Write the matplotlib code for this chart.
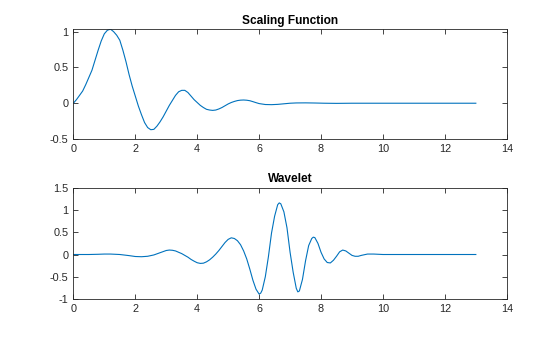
import matplotlib
matplotlib.use("Agg")
import matplotlib.pyplot as plt

phi_x = [0.0, 0.1, 0.2, 0.3, 0.4, 0.5, 0.6, 0.7, 0.8, 0.9, 1.0, 1.1, 1.2, 1.3, 1.4, 1.5,
         1.6, 1.7, 1.8, 1.9, 2.0, 2.1, 2.2, 2.3, 2.4, 2.5, 2.6, 2.7, 2.8, 2.9, 3.0, 3.1,
         3.2, 3.3, 3.4, 3.5, 3.6, 3.7, 3.8, 3.9, 4.0, 4.1, 4.2, 4.3, 4.4, 4.5, 4.6, 4.7,
         4.8, 4.9, 5.0, 5.1, 5.2, 5.3, 5.4, 5.5, 5.6, 5.7, 5.8, 5.9, 6.0, 6.2, 6.4, 6.6,
         6.8, 7.0, 7.2, 7.5, 7.8, 8.1, 8.5, 9.0, 10.0, 11.0, 12.0, 13.0]
phi_y = [0.0, 0.05, 0.11, 0.17, 0.26, 0.36, 0.46, 0.60, 0.74, 0.87, 0.97, 1.02, 1.035, 1.0, 0.95, 0.88,
         0.74, 0.58, 0.40, 0.24, 0.10, -0.04, -0.16, -0.27, -0.34, -0.37, -0.365, -0.32, -0.26, -0.19, -0.11, -0.03,
         0.04, 0.11, 0.16, 0.18, 0.18, 0.15, 0.10, 0.05, 0.01, -0.03, -0.06, -0.085, -0.095, -0.10, -0.095, -0.08,
         -0.06, -0.035, -0.01, 0.01, 0.025, 0.037, 0.043, 0.045, 0.042, 0.035, 0.022, 0.008, -0.005, -0.018, -0.02, -0.016,
         -0.008, 0.0, 0.004, 0.005, 0.003, 0.0, -0.002, 0.0, 0.0, 0.0, 0.0, 0.0]

psi_x = [0.0, 0.5, 0.8, 1.0, 1.2, 1.5, 1.8, 2.0, 2.2, 2.4, 2.6, 2.8, 3.0, 3.1, 3.2, 3.3,
         3.4, 3.5, 3.6, 3.7, 3.8, 3.9, 4.0, 4.1, 4.2, 4.3, 4.4, 4.5, 4.6, 4.7, 4.8, 4.9,
         5.0, 5.1, 5.2, 5.3, 5.4, 5.5, 5.6, 5.7, 5.8, 5.9, 6.0, 6.05, 6.1, 6.2, 6.3, 6.4,
         6.5, 6.6, 6.65, 6.7, 6.8, 6.9, 7.0, 7.1, 7.2, 7.25, 7.3, 7.4, 7.5, 7.6, 7.7, 7.75,
         7.8, 7.9, 8.0, 8.1, 8.2, 8.3, 8.4, 8.5, 8.6, 8.7, 8.8, 8.9, 9.0, 9.1, 9.2, 9.3,
         9.5, 9.7, 10.0, 11.0, 12.0, 13.0]
psi_y = [0.0, 0.0, 0.005, 0.01, 0.01, 0.0, -0.025, -0.045, -0.05, -0.04, -0.01, 0.04, 0.09, 0.10, 0.095, 0.08,
         0.05, 0.02, -0.02, -0.06, -0.11, -0.15, -0.185, -0.2, -0.195, -0.165, -0.12, -0.06, 0.01, 0.09, 0.18, 0.27,
         0.34, 0.375, 0.36, 0.31, 0.22, 0.08, -0.10, -0.33, -0.58, -0.78, -0.89, -0.87, -0.80, -0.50, -0.05, 0.48,
         0.86, 1.12, 1.16, 1.14, 0.96, 0.60, 0.05, -0.40, -0.76, -0.84, -0.82, -0.56, -0.14, 0.20, 0.36, 0.39,
         0.38, 0.25, 0.05, -0.10, -0.18, -0.19, -0.13, -0.04, 0.06, 0.10, 0.08, 0.03, -0.02, -0.04, -0.04, -0.02,
         0.01, 0.01, 0.0, 0.0, 0.0, 0.0]

x_ticks = [0, 2, 4, 6, 8, 10, 12, 14]
top_yticks = [-0.5, 0, 0.5, 1]
top_ylabels = ["-0.5", "0", "0.5", "1"]
bot_yticks = [-1, -0.5, 0, 0.5, 1, 1.5]
bot_ylabels = ["-1", "-0.5", "0", "0.5", "1", "1.5"]
titles = ["Scaling Function", "Wavelet"]

plt.rcParams['font.family'] = ['Liberation Sans', 'DejaVu Sans']
line_color = '#0072BD'
axis_color = '#262626'

fig = plt.figure(figsize=(5.6, 3.37), dpi=100)
ax1 = fig.add_axes([0.131, 0.5875, 0.774, 0.326])
ax2 = fig.add_axes([0.131, 0.1128, 0.774, 0.330])

ax1.plot(phi_x, phi_y, color=line_color, lw=0.8)
ax1.set_xlim(0, 14)
ax1.set_ylim(-0.5, max(phi_y))
ax1.set_yticks(top_yticks)
ax1.set_yticklabels(top_ylabels)

ax2.plot(psi_x, psi_y, color=line_color, lw=0.8)
ax2.set_xlim(0, 14)
ax2.set_ylim(-1, 1.5)
ax2.set_yticks(bot_yticks)
ax2.set_yticklabels(bot_ylabels)

for ax, t in zip([ax1, ax2], titles):
    ax.set_xticks(x_ticks)
    ax.set_xticklabels([str(v) for v in x_ticks])
    ax.tick_params(direction='in', top=True, right=True, length=3.5, width=0.6,
                   labelsize=7.8, colors=axis_color, pad=3.5)
    for s in ax.spines.values():
        s.set_linewidth(0.6)
        s.set_color(axis_color)
    ax.set_title(t, fontsize=8.6, fontweight='bold', color='black', pad=4)

fig.savefig('out.png', dpi=100)
